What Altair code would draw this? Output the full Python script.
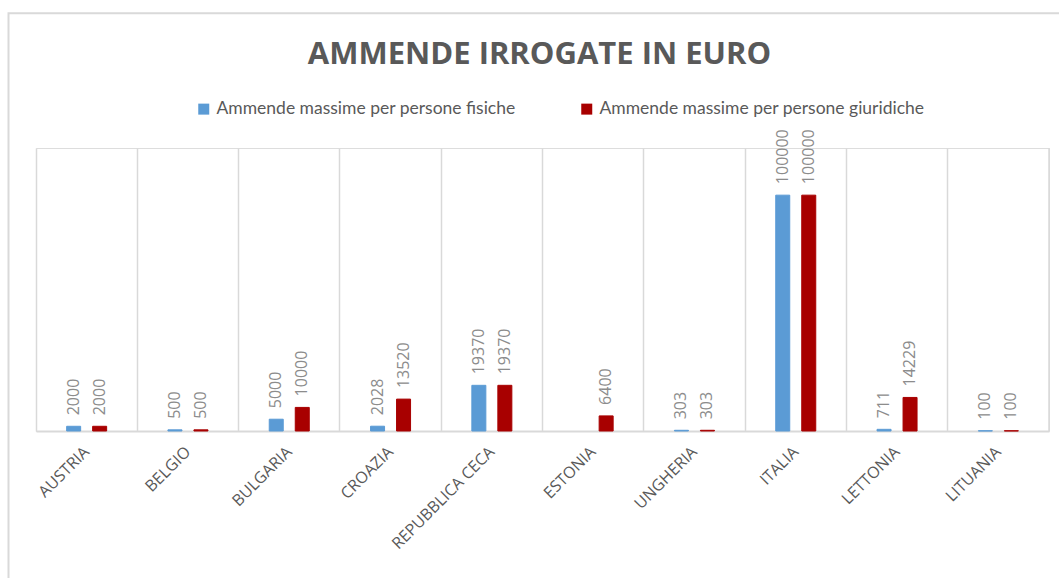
import altair as alt
import pandas as pd

countries = ["AUSTRIA", "BELGIO", "BULGARIA", "CROAZIA", "REPUBBLICA CECA",
             "ESTONIA", "UNGHERIA", "ITALIA", "LETTONIA", "LITUANIA"]
fisiche = [2000, 500, 5000, 2028, 19370, None, 303, 100000, 711, 100]
giuridiche = [2000, 500, 10000, 13520, 19370, 6400, 303, 100000, 14229, 100]
series_names = ["Ammende massime per persone fisiche",
                "Ammende massime per persone giuridiche"]
series_colors = ["#5b9bd5", "#a80000"]

rows = []
for c, f, g in zip(countries, fisiche, giuridiche):
    if f is not None:
        rows.append({"paese": c, "serie": series_names[0], "valore": f})
    if g is not None:
        rows.append({"paese": c, "serie": series_names[1], "valore": g})
df = pd.DataFrame(rows)

W, H = 1013, 283

x_enc = alt.X("paese:N", sort=countries,
              scale=alt.Scale(paddingInner=0, paddingOuter=0),
              axis=alt.Axis(title=None, grid=True, bandPosition=0,
                            gridColor="#d9d9d9", gridWidth=1.5,
                            domainColor="#d9d9d9", domainWidth=2,
                            ticks=False, labelAngle=-45, labelAlign="right",
                            labelBaseline="middle", labelPadding=18,
                            labelFont="Open Sans", labelFontSize=16,
                            labelColor="#595959", labelLimit=300,
                            labelOverlap=False, labelBound=False))
xoff = alt.XOffset("serie:N", sort=series_names,
                   scale=alt.Scale(paddingInner=0.104, paddingOuter=1))
y_enc = alt.Y("valore:Q", scale=alt.Scale(domain=[0, 120000], nice=False),
              axis=None)
col_scale = alt.Scale(domain=series_names, range=series_colors)
color_enc = alt.Color("serie:N", sort=series_names, scale=col_scale,
                      legend=alt.Legend(title=None, orient="none",
                                        direction="horizontal",
                                        legendX=159, legendY=-48,
                                        symbolType="square", symbolSize=121,
                                        symbolStrokeWidth=0,
                                        labelFont="Lato", labelFontSize=17.5,
                                        labelColor="#595959",
                                        labelOffset=4, columnPadding=62,
                                        labelLimit=400, padding=0))

base = alt.Chart(df)

bars = base.mark_bar(size=14, strokeWidth=1).encode(
    x=x_enc, xOffset=xoff, y=y_enc, color=color_enc,
    stroke=alt.Stroke("serie:N", scale=col_scale, legend=None))

labels = base.mark_text(angle=270, align="left", baseline="middle", dx=11,
                        font="Open Sans", fontSize=16, color="#8c8c8c").encode(
    x=alt.X("paese:N", sort=countries), xOffset=xoff, y=y_enc,
    text=alt.Text("valore:Q", format="d"))

one = pd.DataFrame({"k": [0]})
right_edge = alt.Chart(one).mark_rule(color="#d9d9d9", strokeWidth=1.5).encode(
    x=alt.value(W), y=alt.value(0), y2=alt.value(H))

frame = alt.Chart(one).mark_rect(filled=False, stroke="#d9d9d9",
                                 strokeWidth=2).encode(
    x=alt.value(-27.5), x2=alt.value(1100),
    y=alt.value(-134.7), y2=alt.value(700))

chart = alt.layer(frame, right_edge, bars, labels).properties(
    width=W, height=H,
    title=alt.Title("AMMENDE IRROGATE IN EURO", font="Open Sans",
                    fontSize=31, fontWeight="bold", color="#595959",
                    anchor="middle", offset=-59, dx=-3),
    autosize=alt.AutoSizeParams(type="none"),
    padding={"left": 36, "top": 148, "right": 10, "bottom": 147},
).configure_view(stroke=None).configure(background="white")

chart.save("out.html", embed_options={"renderer": "svg", "actions": False})
